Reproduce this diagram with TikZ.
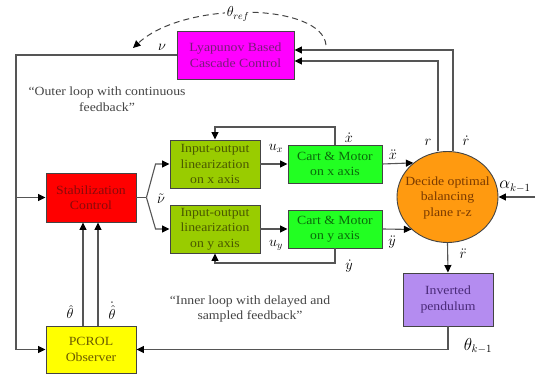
\documentclass[tikz,border=0pt]{standalone}
\usepackage{fontspec}
\setmainfont{Liberation Serif}[FakeStretch=1.1]
\usetikzlibrary{arrows.meta,shapes.geometric,calc}
\definecolor{linec}{HTML}{555555}
\definecolor{boxc}{HTML}{444444}
\definecolor{magf}{HTML}{FF00FF}\definecolor{magt}{HTML}{7A1A7A}
\definecolor{redf}{HTML}{FF0000}\definecolor{redt}{HTML}{8A0A0A}
\definecolor{olf}{HTML}{99CC00}\definecolor{olt}{HTML}{4A5800}
\definecolor{grf}{HTML}{22FF22}\definecolor{grt}{HTML}{0A6A0A}
\definecolor{orf}{HTML}{FF9A10}\definecolor{ort}{HTML}{7A3A00}
\definecolor{puf}{HTML}{B48CF0}\definecolor{put}{HTML}{4A2A78}
\definecolor{yef}{HTML}{FFFF00}\definecolor{yet}{HTML}{6A5A00}
\definecolor{cmt}{HTML}{444444}
\newcommand\myboxfont{\fontsize{12.5}{15.5}\selectfont}
\newcommand\mylblfont{\fontsize{14}{16}\selectfont}
\newcommand\mybiglblfont{\fontsize{16}{18}\selectfont}
\tikzset{
  conn/.style={draw=linec, line width=1.1pt},
  arr/.style={conn, -{Triangle[length=7.5pt,width=7pt,color=black]}},
  blk/.style={draw=boxc, line width=0.9pt, inner sep=0pt, align=center, font=\myboxfont},
  lbl/.style={inner sep=0.5pt, font=\mylblfont},
  biglbl/.style={inner sep=0.5pt, font=\mybiglblfont},
  cmtxt/.style={inner sep=0pt, align=center, font=\myboxfont, text=cmt}
}
\begin{document}
\begin{tikzpicture}[x=1pt,y=-1pt]
\useasboundingbox (0,0) rectangle (542,379);
% blocks
\node[blk, fill=magf, text=magt, minimum width=117pt, minimum height=48pt] (lyap) at (235.5,55) {Lyapunov Based\\Cascade Control};
\node[blk, fill=redf, text=redt, minimum width=90pt, minimum height=49pt] (stab) at (91,197.5) {Stabilization\\Control};
\node[blk, fill=yef, text=yet, minimum width=90pt, minimum height=47pt] (pcrol) at (91,349.5) {PCROL\\Observer};
\node[blk, fill=olf, text=olt, minimum width=90pt, minimum height=48pt] (iox) at (215,164) {Input-output\\linearization\\on x axis};
\node[blk, fill=olf, text=olt, minimum width=90pt, minimum height=48pt] (ioy) at (215,229) {Input-output\\linearization\\on y axis};
\node[blk, fill=grf, text=grt, minimum width=94pt, minimum height=38pt] (cx) at (335,164) {Cart \& Motor\\on x axis};
\node[blk, fill=grf, text=grt, minimum width=94pt, minimum height=38pt] (cy) at (335,229) {Cart \& Motor\\on y axis};
\node[draw=boxc, line width=0.9pt, fill=orf, ellipse, inner sep=0pt, minimum width=101pt, minimum height=91pt] (c) at (447.5,197) {};
\node[blk, draw=none, text=ort] (ctext) at (447.5,197.5) {Decide optimal\\balancing\\plane r-z};
\node[blk, fill=puf, text=put, minimum width=90pt, minimum height=53pt] (pend) at (448,299.5) {Inverted\\pendulum};
% comments
\node[cmtxt] (outer) at (107,99) {``Outer loop with continuous\\feedback''};
\node[cmtxt] (inner) at (250,309) {``Inner loop with delayed and\\sampled feedback''};
% coordinates
\coordinate (L) at (16,197.5);
\coordinate (rx) at (438,0);
\coordinate (rdx) at (453,0);
\coordinate (xdA) at (335,127);
\coordinate (xdB) at (215,127);
\coordinate (ydA) at (335,263);
\coordinate (ydB) at (215,263);
\coordinate (alin) at (535,197);
\coordinate (thA) at (83,0);
\coordinate (thB) at (98,0);
% outer loop
\draw[conn] (lyap.west) -| (L);
\draw[arr] (L) -- (stab.west);
\draw[arr] (L) |- (pcrol.west);
\draw[arr] (c.north -| rdx) |- ([yshift=5pt]lyap.east);
\draw[arr] (c.north -| rx) |- ([yshift=-6pt]lyap.east);
% stab fork
\coordinate (f0) at ($(stab.east)+(10,0)$);
\draw[conn] (stab.east) -- (f0);
\draw[arr] (f0) -- ($(iox.west)+(-14,0)$) -- (iox.west);
\draw[arr] (f0) -- ($(ioy.west)+(-14,0)$) -- (ioy.west);
% inner paths
\draw[arr] (iox) -- (cx);
\draw[arr] (ioy) -- (cy);
\draw[arr] (cx.north) -- (xdA) -- (xdB) -- (iox.north);
\draw[arr] (cy.south) -- (ydA) -- (ydB) -- (ioy.south);
\draw[arr] (cx.east) -- (c.135);
\draw[arr] (cy.east) -- (c.222);
\draw[arr] (alin) -- (c.east);
\draw[arr] (c.south) -- (pend.north);
\draw[arr] (pend.south) |- (pcrol.east);
\draw[arr] (pcrol.north -| thA) -- (stab.south -| thA);
\draw[arr] (pcrol.north -| thB) -- (stab.south -| thB);
% dashed arc
\coordinate (arcA) at (326,45);
\coordinate (arcB) at (133,48);
\draw[draw=boxc, line width=1pt, dash pattern=on 6pt off 4pt, -{Triangle[length=7.5pt,width=7pt,color=black]}] (arcA) .. controls (322,3) and (185,0) .. (arcB);
% labels
\node[lbl, fill=white, inner sep=2pt] (lref) at (238,14) {$\theta_{ref}$};
\node[lbl] (lnu) at (162,47) {$\nu$};
\node[lbl] (lvt) at (161,199) {$\tilde{\nu}$};
\node[lbl] (lux) at (276,148) {$u_x$};
\node[lbl] (luy) at (276,245) {$u_y$};
\node[lbl] (lxd) at (349,138) {$\dot{x}$};
\node[lbl] (lyd) at (349,266) {$\dot{y}$};
\node[lbl] (lxdd) at (393,155) {$\ddot{x}$};
\node[lbl] (lydd) at (392,242) {$\ddot{y}$};
\node[lbl] (lr) at (428,142) {$r$};
\node[lbl] (lrd) at (466,141) {$\dot{r}$};
\node[lbl] (lrdd) at (463,254) {$\ddot{r}$};
\node[biglbl] (lal) at (515,187) {$\alpha_{k-1}$};
\node[biglbl] (lth) at (478,346) {$\theta_{k-1}$};
\node[lbl] (lthh) at (70,312) {$\hat{\theta}$};
\node[lbl] (lthhd) at (112,311) {$\dot{\hat{\theta}}$};
\end{tikzpicture}
\end{document}
